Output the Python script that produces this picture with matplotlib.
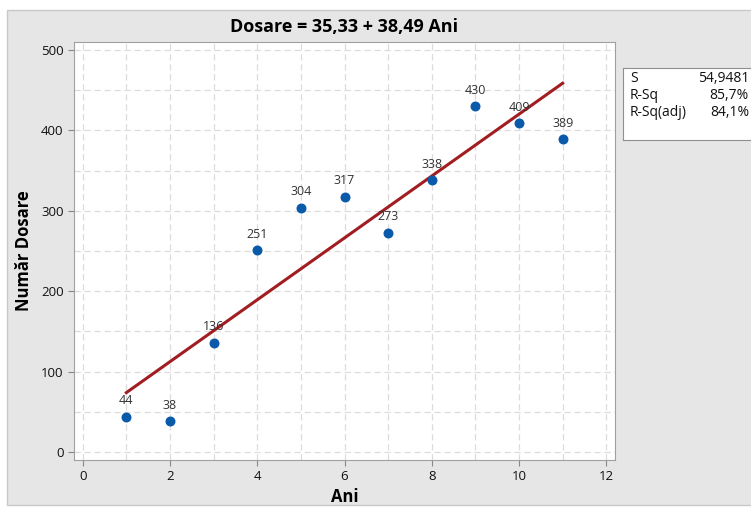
import matplotlib.pyplot as plt
from matplotlib.patches import Rectangle
import numpy as np

# Date: numar de dosare pe ani
ani = [1, 2, 3, 4, 5, 6, 7, 8, 9, 10, 11]
dosare = [44, 38, 136, 251, 304, 317, 273, 338, 430, 409, 389]
intercept = 35.33
panta = 38.49
stat_nume = ["S", "R-Sq", "R-Sq(adj)"]
stat_valori = ["54,9481", "85,7%", "84,1%"]

plt.rcParams['font.family'] = ['Open Sans', 'DejaVu Sans']

fig = plt.figure(figsize=(7.51, 5.07), dpi=100)
fig.patch.set_facecolor('white')

# fundal gri cu chenar
fig.patches.append(Rectangle((7 / 751, 2 / 507), 760 / 751, 495 / 507,
                             transform=fig.transFigure, facecolor='#e6e6e6',
                             edgecolor='#c8c8c8', linewidth=1, zorder=-5))

ax = fig.add_axes([74 / 751, 1 - 460 / 507, (615 - 74) / 751, (460 - 42) / 507])
ax.set_facecolor('white')
ax.set_xlim(-0.2, 12.2)
ax.set_ylim(-10, 510)

# grila punctata
for gx in range(0, 13):
    ax.axvline(gx, color='#dcdcdc', linestyle=(0, (5, 3)), linewidth=0.9, zorder=0)
for gy in range(0, 501, 50):
    ax.axhline(gy, color='#dcdcdc', linestyle=(0, (5, 3)), linewidth=0.9, zorder=0)

# dreapta de regresie
xl = np.array([min(ani), max(ani)])
ax.plot(xl, intercept + panta * xl, color='#a11d21', linewidth=2.2, zorder=2)

ax.scatter(ani, dosare, color='#0a5aaa', s=38, zorder=3)
for x, y in zip(ani, dosare):
    ax.text(x, y + 12, str(y), ha='center', va='bottom', fontsize=9, color='#333333')

ax.set_xticks(range(0, 13, 2))
ax.set_yticks(range(0, 501, 100))
ax.tick_params(labelsize=9.5, length=4, color='#888888', labelcolor='#111111')
for s in ax.spines.values():
    s.set_color('#a0a0a0')
ax.set_xlabel("Ani", fontsize=12, fontweight='bold', labelpad=3)
ax.set_ylabel("Număr Dosare", fontsize=12, fontweight='bold', labelpad=6)
ax.set_title("Dosare = 35,33 + 38,49 Ani", fontsize=13, fontweight='bold', pad=7)

# caseta cu statistici
box = fig.add_axes([623 / 751, 1 - 140 / 507, 140 / 751, 72 / 507])
box.set_facecolor('white')
box.set_xticks([])
box.set_yticks([])
for s in box.spines.values():
    s.set_color('#909090')
for i, (n, v) in enumerate(zip(stat_nume, stat_valori)):
    yy = 78 + i * 17
    fig.text(630 / 751, 1 - yy / 507, n, fontsize=10, va='center', ha='left', color='#111111')
    fig.text(749 / 751, 1 - yy / 507, v, fontsize=10, va='center', ha='right', color='#111111')

fig.savefig("out.png", dpi=100)
